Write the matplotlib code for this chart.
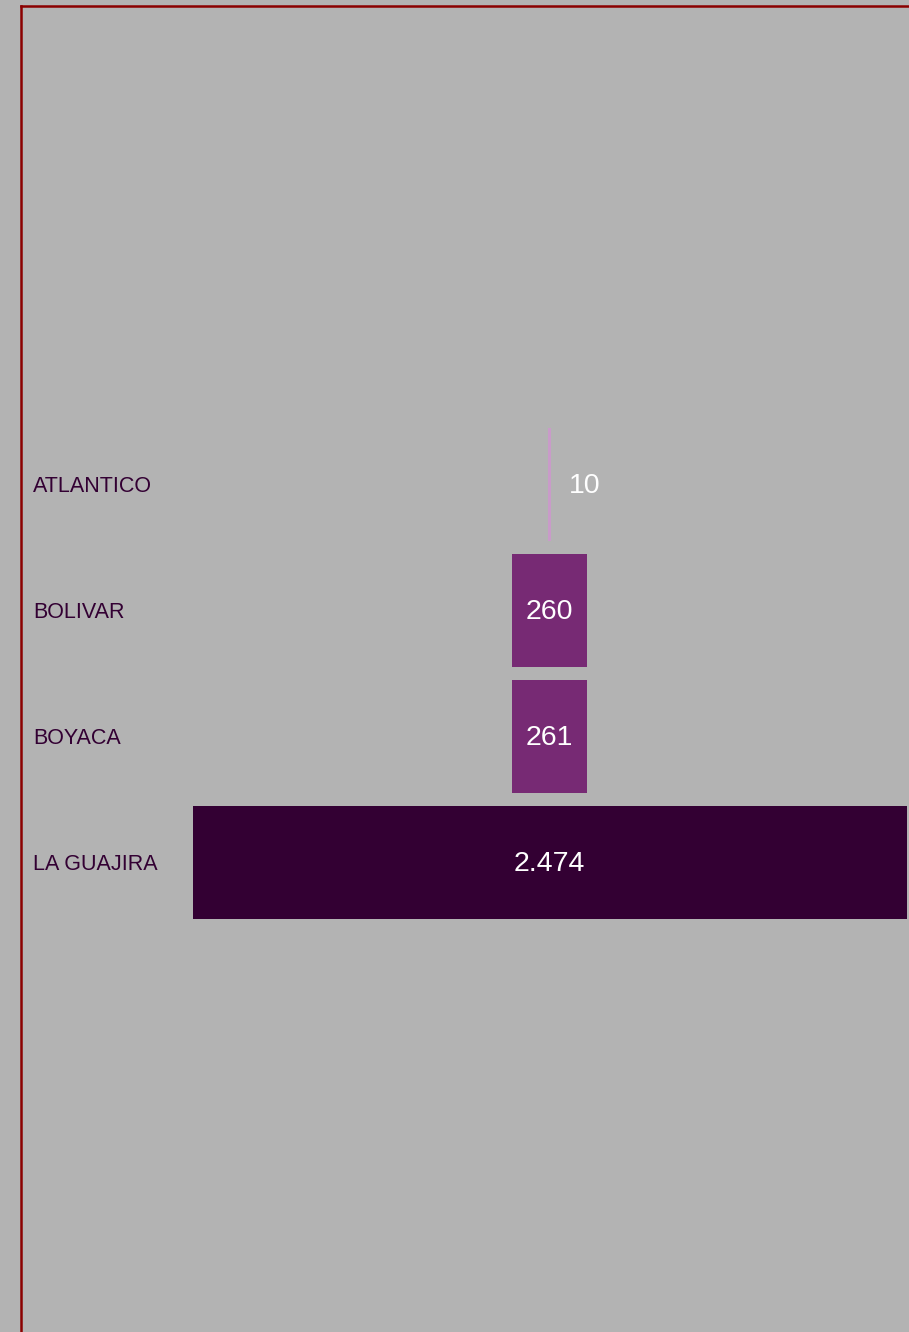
import matplotlib.pyplot as plt
from matplotlib.lines import Line2D

# data
departments = ["ATLANTICO", "BOLIVAR", "BOYACA", "LA GUAJIRA"]
values = [10, 260, 261, 2474]
value_labels = ["10", "260", "261", "2.474"]
bar_colors = ["#c99bc9", "#772a74", "#772a74", "#330033"]

W, H = 909, 1332
fig = plt.figure(figsize=(W / 100, H / 100), dpi=100)
fig.patch.set_facecolor("#b3b3b3")
ax = fig.add_axes([0, 0, 1, 1])
ax.set_facecolor("#b3b3b3")
ax.axis("off")

# pixel layout -> data scale
px_per_unit = 714 / max(values)
center_px = 549.5
ax.set_xlim(-center_px / px_per_unit, (W - center_px) / px_per_unit)
row_px = 126
first_px = 484.5
ax.set_ylim((H - first_px) / row_px, -first_px / row_px)

ys = range(len(departments))
ax.barh(ys, values, left=[-v / 2 for v in values], height=113 / row_px,
        color=bar_colors, linewidth=0)

label_x = (33 - center_px) / px_per_unit
dy = 1.5 / row_px
for y, name, v, txt in zip(ys, departments, values, value_labels):
    ax.text(label_x, y + dy, name, ha="left", va="center", fontsize=15.5,
            color="#330033", family="Liberation Sans")
    if v * px_per_unit < 60:
        ax.text(v / 2 + 18 / px_per_unit, y + dy, txt, ha="left", va="center",
                fontsize=20.5, color="white", family="Liberation Sans")
    else:
        ax.text(0, y + dy, txt, ha="center", va="center", fontsize=20.5,
                color="white", family="Liberation Sans")

# dark red frame (left and top edges)
fx, fy = 21 / W, 1 - 6 / H
fig.add_artist(Line2D([fx, fx], [0, fy], transform=fig.transFigure,
                      color="#8b0000", linewidth=1.8))
fig.add_artist(Line2D([fx, 1], [fy, fy], transform=fig.transFigure,
                      color="#8b0000", linewidth=1.8))

fig.savefig("out.png", dpi=100, facecolor=fig.get_facecolor())
